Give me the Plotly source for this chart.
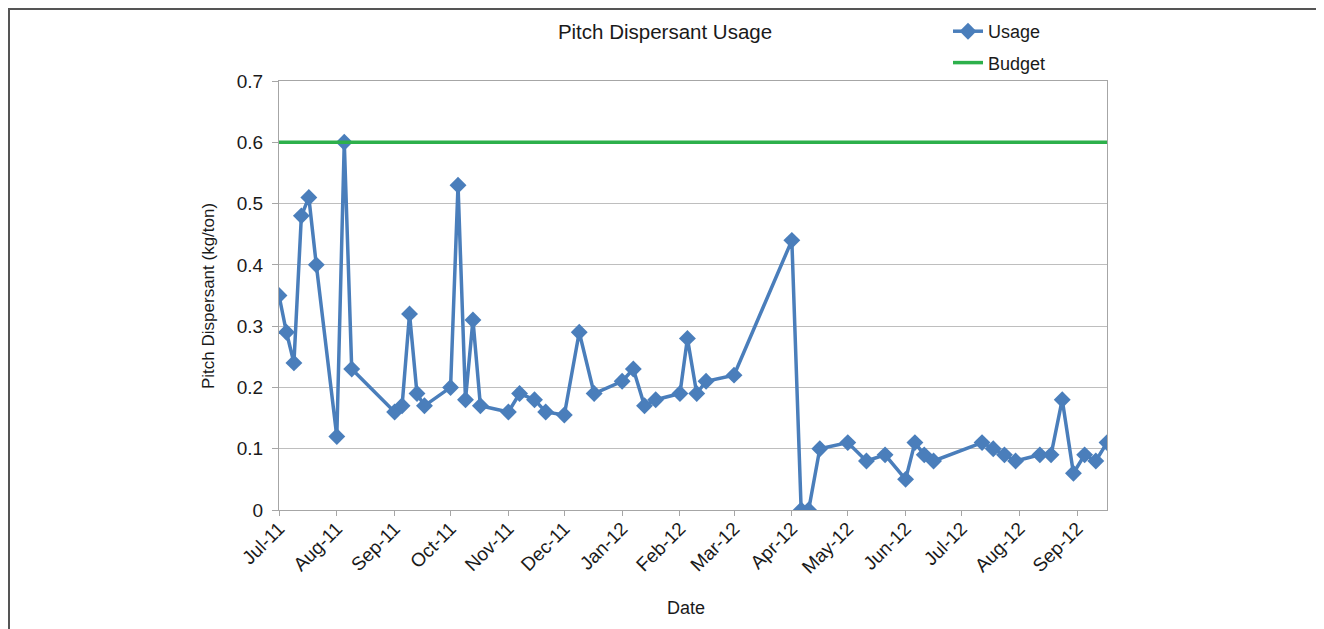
import plotly.graph_objects as go

# ---- data ----
dates = [
    "2011-07-01", "2011-07-05", "2011-07-09", "2011-07-13", "2011-07-17", "2011-07-21",
    "2011-08-01", "2011-08-05", "2011-08-09",
    "2011-09-01", "2011-09-05", "2011-09-09", "2011-09-13", "2011-09-17",
    "2011-10-01", "2011-10-05", "2011-10-09", "2011-10-13", "2011-10-17",
    "2011-11-01", "2011-11-07", "2011-11-15", "2011-11-21",
    "2011-12-01", "2011-12-09", "2011-12-17",
    "2012-01-01", "2012-01-07", "2012-01-13", "2012-01-19",
    "2012-02-01", "2012-02-05", "2012-02-10", "2012-02-15",
    "2012-03-01",
    "2012-04-01", "2012-04-06", "2012-04-10", "2012-04-16",
    "2012-05-01", "2012-05-11", "2012-05-21",
    "2012-06-01", "2012-06-06", "2012-06-11", "2012-06-16",
    "2012-07-12", "2012-07-18", "2012-07-24", "2012-07-30",
    "2012-08-12", "2012-08-18", "2012-08-24", "2012-08-30",
    "2012-09-05", "2012-09-11", "2012-09-17",
]
usage = [
    0.35, 0.29, 0.24, 0.48, 0.51, 0.40,
    0.12, 0.60, 0.23,
    0.16, 0.17, 0.32, 0.19, 0.17,
    0.20, 0.53, 0.18, 0.31, 0.17,
    0.16, 0.19, 0.18, 0.16,
    0.155, 0.29, 0.19,
    0.21, 0.23, 0.17, 0.18,
    0.19, 0.28, 0.19, 0.21,
    0.22,
    0.44, 0.0, 0.0, 0.10,
    0.11, 0.08, 0.09,
    0.05, 0.11, 0.09, 0.08,
    0.11, 0.10, 0.09, 0.08,
    0.09, 0.09, 0.18, 0.06,
    0.09, 0.08, 0.11,
]
budget_dates = [dates[0], dates[-1]]
budget = [0.6, 0.6]

y_tick_vals = [0, 0.1, 0.2, 0.3, 0.4, 0.5, 0.6, 0.7]
y_tick_text = ["0", "0.1", "0.2", "0.3", "0.4", "0.5", "0.6", "0.7"]

title_text = "Pitch Dispersant Usage"
y_title = "Pitch Dispersant (kg/ton)"
x_title = "Date"

# ---- layout geometry (page pixels) ----
OFF = 8  # default body margin of the html page
PAGE_W, PAGE_H = 1324, 629
W, H = PAGE_W - OFF, PAGE_H - OFF
L, R, T, B = 279, 1107, 81, 510
pw, ph = R - L, B - T

def px(x):
    return (x - L) / pw

def py(y):
    return (B - y) / ph

FONT = "Liberation Sans, Arial, sans-serif"
TXT = "#1a1a1a"
BLUE = "#4A7EBB"
GREEN = "#2DB04B"

fig = go.Figure()
fig.add_trace(go.Scatter(
    x=dates, y=usage, name="Usage", mode="lines+markers", legendgroup="a",
    line=dict(color=BLUE, width=3.5),
    marker=dict(symbol="diamond", size=13, color=BLUE),
))
fig.add_trace(go.Scatter(
    x=budget_dates, y=budget, name="Budget", mode="lines", legendgroup="b",
    line=dict(color=GREEN, width=3.5),
))

fig.update_layout(
    width=W, height=H,
    margin=dict(l=L - OFF, r=PAGE_W - R, t=T - OFF, b=PAGE_H - B, autoexpand=False),
    paper_bgcolor="white", plot_bgcolor="white",
    font=dict(family=FONT, size=16, color=TXT),
    title=dict(text=title_text, x=(665 - OFF) / W, xanchor="center", xref="container",
               y=1 - (32 - OFF) / H, yanchor="middle", yref="container",
               font=dict(size=20.5, family=FONT, color=TXT)),
    showlegend=True,
    legend=dict(x=px(948), y=py(13), xanchor="left", yanchor="top",
                font=dict(size=18, family=FONT, color=TXT), bgcolor="rgba(0,0,0,0)",
                itemwidth=30, tracegroupgap=5),
    xaxis=dict(
        type="date",
        range=[dates[0], dates[-1]],
        tick0="2011-07-01", dtick="M1", tickformat="%b-%y",
        tickangle=-45, ticks="outside", ticklen=5, tickcolor="#A6A6A6",
        showgrid=False, showline=True, linecolor="#A6A6A6", linewidth=1,
        mirror=True, zeroline=False, ticklabelstandoff=-6,
        tickfont=dict(size=19, family=FONT, color=TXT),
    ),
    yaxis=dict(
        range=[0, 0.7], tickmode="array", tickvals=y_tick_vals, ticktext=y_tick_text,
        ticks="outside", ticklen=6, tickcolor="#A6A6A6",
        showgrid=True, gridcolor="#BEBEBE", gridwidth=1,
        showline=True, linecolor="#A6A6A6", linewidth=1, mirror=True,
        zeroline=False, ticklabelstandoff=5,
        tickfont=dict(size=19, family=FONT, color=TXT),
    ),
    annotations=[
        dict(text=x_title, x=px(686), y=py(608), xref="paper", yref="paper",
             showarrow=False, xanchor="center", yanchor="middle",
             font=dict(size=18, family=FONT, color=TXT)),
        dict(text=y_title, x=px(208), y=py(296), xref="paper", yref="paper",
             showarrow=False, xanchor="center", yanchor="middle", textangle=-90,
             font=dict(size=17, family=FONT, color=TXT)),
    ],
    shapes=[
        dict(type="rect", xref="paper", yref="paper",
             x0=px(9), x1=px(1320), y0=py(640), y1=py(9),
             line=dict(color="#555555", width=2), fillcolor="rgba(0,0,0,0)",
             layer="below"),
    ],
)

fig.write_html("out.html")
